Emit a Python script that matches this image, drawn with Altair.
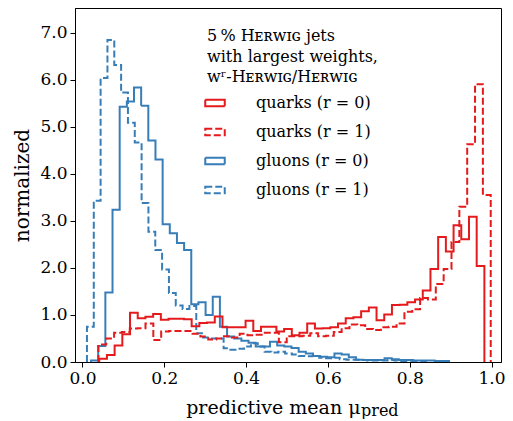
import altair as alt
import numpy as np
import pandas as pd

# ---- data (normalized histogram heights, 50 bins per series over each series' own range)
labels = ["quarks (r = 0)", "quarks (r = 1)", "gluons (r = 0)", "gluons (r = 1)"]

quark_r0_range = [0.041, 0.9825]
quark_r0 = [0.07, 0.15, 0.35, 0.59, 1.05, 0.93, 0.96, 1.02, 0.90, 0.92,
            0.92, 0.91, 0.76, 0.83, 0.84, 0.97, 0.74, 0.74, 0.74, 0.88,
            0.66, 0.75, 0.75, 0.65, 0.70, 0.57, 0.62, 0.82, 0.71, 0.72,
            0.74, 0.82, 0.93, 0.95, 1.08, 1.16, 0.89, 1.01, 1.21, 1.22,
            1.27, 1.33, 1.52, 1.98, 2.66, 2.35, 2.91, 2.61, 3.09, 2.04]

quark_r1_range = [0.039, 0.998]
quark_r1 = [0.37, 0.50, 0.62, 0.64, 0.71, 0.72, 0.82, 0.47, 0.65, 0.66,
            0.66, 0.66, 0.60, 0.54, 0.48, 0.50, 0.55, 0.52, 0.60, 0.57,
            0.58, 0.62, 0.62, 0.42, 0.55, 0.55, 0.56, 0.61, 0.55, 0.56,
            0.64, 0.72, 0.80, 0.78, 0.70, 0.68, 0.74, 0.75, 0.82, 1.07,
            1.12, 1.36, 1.33, 1.66, 1.98, 2.55, 3.30, 4.63, 5.91, 3.55]

gluon_r0_range = [0.021, 0.896]
gluon_r0 = [0.03, 0.34, 1.48, 3.24, 5.43, 5.54, 5.84, 5.45, 4.71, 4.31,
            2.93, 2.74, 2.53, 2.38, 1.23, 1.27, 1.00, 1.39, 0.75, 0.54,
            0.50, 0.45, 0.41, 0.33, 0.33, 0.43, 0.35, 0.33, 0.30, 0.22,
            0.18, 0.13, 0.11, 0.10, 0.18, 0.16, 0.10, 0.05, 0.04, 0.04,
            0.04, 0.08, 0.06, 0.04, 0.04, 0.03, 0.03, 0.03, 0.02, 0.02]

gluon_r1_range = [0.011, 0.846]
gluon_r1 = [0.75, 3.43, 6.04, 6.85, 6.32, 5.73, 5.09, 4.67, 3.38, 2.77,
            2.38, 1.97, 1.47, 1.20, 1.13, 1.19, 0.61, 0.52, 0.50, 0.50,
            0.29, 0.26, 0.28, 0.33, 0.40, 0.33, 0.22, 0.20, 0.22, 0.18,
            0.16, 0.13, 0.12, 0.13, 0.09, 0.08, 0.09, 0.06, 0.05, 0.05,
            0.04, 0.03, 0.03, 0.03, 0.04, 0.03, 0.02, 0.02, 0.02, 0.01]

x_ticks = [0.0, 0.2, 0.4, 0.6, 0.8, 1.0]
y_ticks = [0.0, 1.0, 2.0, 3.0, 4.0, 5.0, 6.0, 7.0]

RED = "#e41a1c"
BLUE = "#377eb8"
FONT = "DejaVu Serif"


def step_rows(label, rng, heights):
    edges = np.linspace(rng[0], rng[1], len(heights) + 1)
    rows = [(edges[0], 0.0)]
    for i, h in enumerate(heights):
        rows.append((edges[i], h))
        rows.append((edges[i + 1], h))
    rows.append((edges[-1], 0.0))
    return [{"series": label, "x": float(x), "y": float(y), "k": k}
            for k, (x, y) in enumerate(rows)]


rows = []
rows += step_rows(labels[2], gluon_r0_range, gluon_r0)
rows += step_rows(labels[3], gluon_r1_range, gluon_r1)
rows += step_rows(labels[0], quark_r0_range, quark_r0)
rows += step_rows(labels[1], quark_r1_range, quark_r1)
df = pd.DataFrame(rows)

legend_title = ["5\u2009% H\u1d07\u0280\u1d21\u026a\u0262 jets",
                "with largest weights,",
                "w\u02b3-H\u1d07\u0280\u1d21\u026a\u0262/H\u1d07\u0280\u1d21\u026a\u0262"]

legend = alt.Legend(
    orient="none", legendX=132, legendY=20,
    title=legend_title, titleFont=FONT, titleFontSize=16, titleFontWeight="normal",
    titleLineHeight=20.5, titleColor="black", titlePadding=10,
    labelFont=FONT, labelFontSize=16, labelColor="black", labelOffset=33,
    symbolType="M-1.5,-0.5H1.5V0.5H-1.5Z", symbolSize=169, symbolStrokeWidth=2,
    symbolFillColor="transparent", rowPadding=13, padding=0,
)

lines = alt.Chart(df).mark_line(strokeWidth=2, clip=True).encode(
    x=alt.X("x:Q", scale=alt.Scale(domain=[-0.0182, 1.0231], nice=False, zero=False),
            axis=alt.Axis(values=x_ticks, format=".1f", title="predictive mean \u03bc",
                          titleAlign="right", titleAnchor="start", titleX=285, titleY=51,
                          titleFontSize=19, titleBaseline="alphabetic", labelPadding=3)),
    y=alt.Y("y:Q", scale=alt.Scale(domain=[0, 7.53], nice=False),
            axis=alt.Axis(values=y_ticks, format=".1f", title="normalized",
                          titleX=-53, titleY=177, titleAngle=270, titleAlign="center",
                          titleBaseline="middle", labelPadding=3)),
    color=alt.Color("series:N", scale=alt.Scale(domain=labels, range=[RED, RED, BLUE, BLUE]),
                    legend=legend),
    strokeDash=alt.StrokeDash("series:N",
                              scale=alt.Scale(domain=labels, range=[[1, 0], [7, 3], [1, 0], [7, 3]]),
                              legend=legend),
    detail="series:N",
    order="k:Q",
)

sub = alt.Chart(pd.DataFrame({"t": ["pred"]})).mark_text(
    font=FONT, fontSize=16, align="left", baseline="alphabetic", color="black"
).encode(x=alt.value(286), y=alt.value(408), text="t:N")

chart = alt.layer(lines, sub).properties(
    width=426, height=354,
    autosize="none",
    padding={"left": 67, "top": 0, "right": 4, "bottom": 57},
).configure_view(stroke="black", strokeWidth=1).configure_axis(
    domainColor="black", tickColor="black", labelColor="black", titleColor="black",
    labelFont=FONT, titleFont=FONT, labelFontSize=17, titleFontSize=20,
    titleFontWeight="normal", tickSize=5, grid=False, domainWidth=1, tickWidth=1,
)

chart.save("out.html", embed_options={"renderer": "svg", "actions": False})
